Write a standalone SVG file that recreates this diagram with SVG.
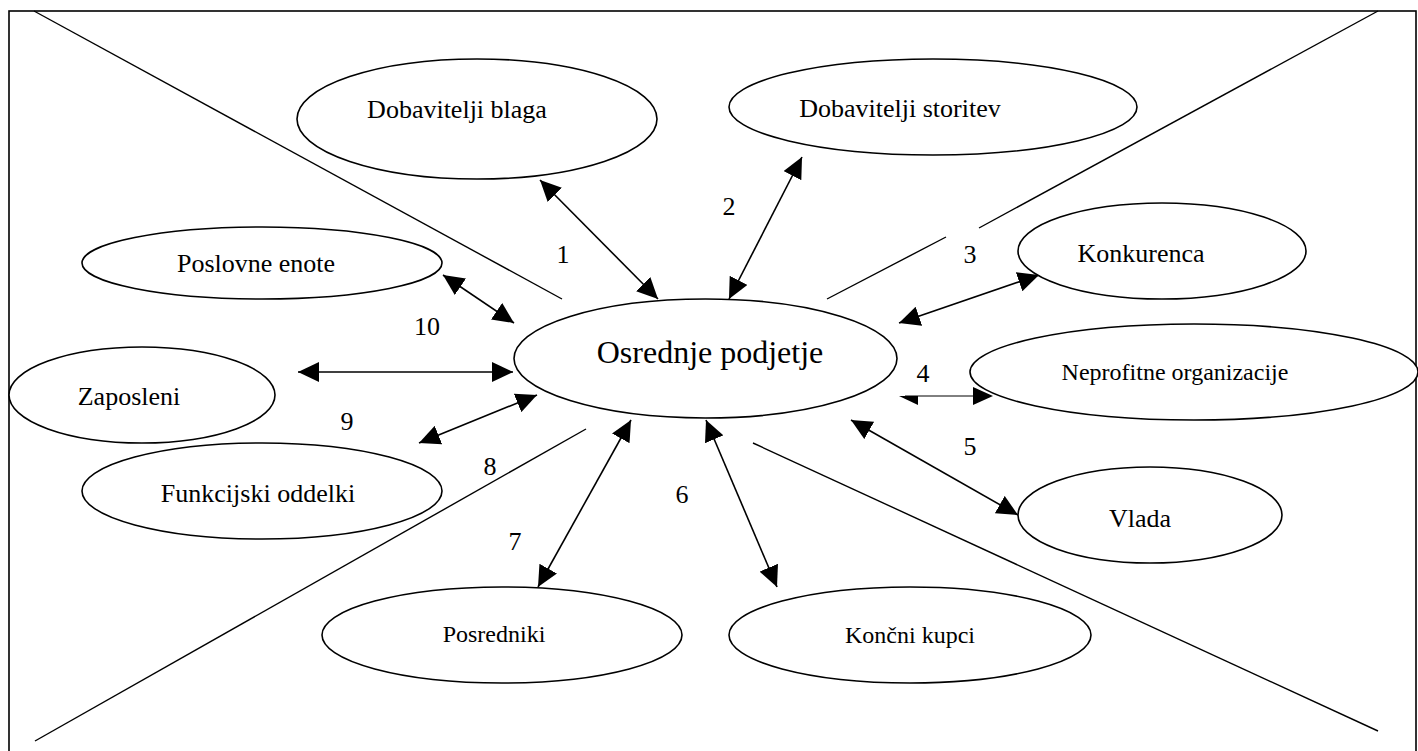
<svg xmlns="http://www.w3.org/2000/svg" width="1418" height="751" viewBox="0 0 1418 751">
<style>
  .bg { fill: #ffffff; }
  .frame { fill: none; stroke: #000; stroke-width: 1.6; }
  .div { fill: none; stroke: #000; stroke-width: 1.4; }
  .node ellipse { fill: #ffffff; stroke: #000; stroke-width: 1.6; }
  .conn line { stroke: #000; stroke-width: 1.6; marker-start: url(#ah); marker-end: url(#ah); }
  .conn line.thin { stroke-width: 1; marker-start: none; marker-end: none; }
  .head { fill: #000; }
  text { font-family: "Liberation Serif", "Times New Roman", serif; fill: #000; text-anchor: middle; }
  .lbl { font-size: 26px; }
  .sm { font-size: 24px; }
  .big { font-size: 32px; }
  .num { font-size: 26px; }
</style>
<defs>
  <marker id="ah" markerUnits="userSpaceOnUse" markerWidth="22" markerHeight="20" refX="21" refY="10" orient="auto-start-reverse" viewBox="0 0 22 20">
    <path d="M0,0 L21,10 L0,20 z" fill="#000"/>
  </marker>
</defs>
<rect class="bg" x="0" y="0" width="1418" height="751"/>
<rect class="frame" x="9" y="11" width="1407" height="770"/>

<g id="dividers">
  <line class="div" x1="34" y1="11" x2="562" y2="299"/>
  <line class="div" x1="1378" y1="11" x2="979" y2="228"/>
  <line class="div" x1="946" y1="237" x2="827" y2="299"/>
  <line class="div" x1="586" y1="429" x2="35" y2="741"/>
  <line class="div" x1="753" y1="443" x2="1378" y2="731"/>
</g>

<g id="connectors" class="conn">
  <line x1="540" y1="180" x2="658" y2="299"/>
  <line x1="802" y1="157" x2="729" y2="299"/>
  <line x1="1039" y1="275" x2="899" y2="323"/>
  <line class="thin" x1="905" y1="396" x2="978" y2="396"/>
  <polygon class="head" points="899,396 918,396 918,405"/>
  <polygon class="head" points="993,396 973,387 973,405"/>
  <line x1="851" y1="420" x2="1018" y2="515"/>
  <line x1="706" y1="420" x2="777" y2="587"/>
  <line x1="631" y1="420" x2="538" y2="587"/>
  <line x1="419" y1="443" x2="537" y2="395"/>
  <line x1="298" y1="372" x2="513" y2="372"/>
  <line x1="443" y1="275" x2="514" y2="323"/>
</g>

<g id="n-dobavitelji-blaga" class="node">
  <ellipse cx="477" cy="119" rx="180" ry="60"/>
  <text class="lbl" x="457" y="118">Dobavitelji blaga</text>
</g>
<g id="n-dobavitelji-storitev" class="node">
  <ellipse cx="933" cy="107" rx="204" ry="48"/>
  <text class="lbl" x="900" y="117">Dobavitelji storitev</text>
</g>
<g id="n-poslovne-enote" class="node">
  <ellipse cx="262" cy="263" rx="180" ry="36"/>
  <text class="lbl" x="256" y="272">Poslovne enote</text>
</g>
<g id="n-osrednje" class="node">
  <ellipse cx="705.5" cy="358.5" rx="191.5" ry="59.5"/>
  <text class="big" x="710" y="363">Osrednje podjetje</text>
</g>
<g id="n-konkurenca" class="node">
  <ellipse cx="1162" cy="251" rx="144" ry="48"/>
  <text class="lbl" x="1141" y="262">Konkurenca</text>
</g>
<g id="n-neprofitne" class="node">
  <ellipse cx="1194" cy="372" rx="224" ry="48"/>
  <text class="sm" x="1175" y="380">Neprofitne organizacije</text>
</g>
<g id="n-zaposleni" class="node">
  <ellipse cx="142" cy="395" rx="133" ry="48"/>
  <text class="lbl" x="129" y="405">Zaposleni</text>
</g>
<g id="n-funkcijski" class="node">
  <ellipse cx="262" cy="491" rx="180" ry="48"/>
  <text class="lbl" x="258" y="502">Funkcijski oddelki</text>
</g>
<g id="n-vlada" class="node">
  <ellipse cx="1150" cy="515" rx="132" ry="48"/>
  <text class="lbl" x="1140" y="527">Vlada</text>
</g>
<g id="n-posredniki" class="node">
  <ellipse cx="502" cy="635" rx="180" ry="48"/>
  <text class="sm" x="494" y="642">Posredniki</text>
</g>
<g id="n-koncni-kupci" class="node">
  <ellipse cx="910" cy="635" rx="181" ry="48"/>
  <text class="sm" x="910" y="643">Končni kupci</text>
</g>

<g id="numbers">
  <text class="num" x="563" y="263">1</text>
  <text class="num" x="729" y="215">2</text>
  <text class="num" x="970" y="263">3</text>
  <text class="num" x="923" y="382">4</text>
  <text class="num" x="970" y="455">5</text>
  <text class="num" x="682" y="503">6</text>
  <text class="num" x="515" y="550">7</text>
  <text class="num" x="490" y="475">8</text>
  <text class="num" x="347" y="430">9</text>
  <text class="num" x="427" y="335">10</text>
</g>
</svg>
